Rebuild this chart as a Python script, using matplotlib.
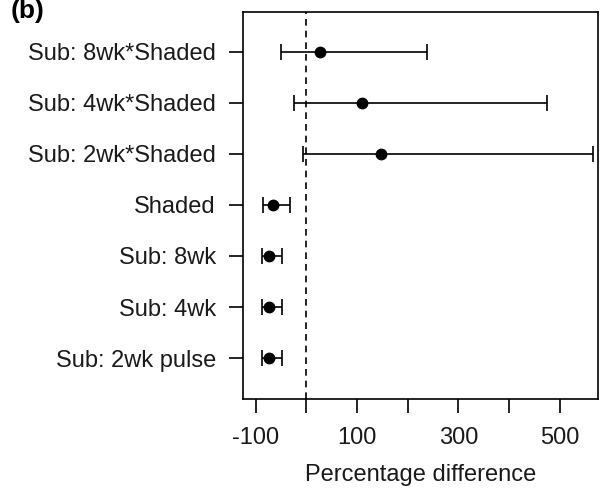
import matplotlib
matplotlib.use("Agg")
import matplotlib.pyplot as plt

plt.rcParams['font.family'] = ['Liberation Sans', 'DejaVu Sans']

labels = ["Sub: 2wk pulse", "Sub: 4wk", "Sub: 8wk", "Shaded",
          "Sub: 2wk*Shaded", "Sub: 4wk*Shaded", "Sub: 8wk*Shaded"]
estimate = [-74, -74, -74, -66, 148, 110, 27]
lower = [-87, -87, -87, -85, -6, -24, -51]
upper = [-48, -49, -48, -32, 567, 476, 239]
xticks = [-100, 0, 100, 200, 300, 400, 500]
xticklabels = ["-100", "", "100", "", "300", "", "500"]

TXT = '#1a1a1a'
W, H = 600, 488
fig = plt.figure(figsize=(W/100, H/100), dpi=100)
ax = fig.add_axes([242.7/W, 1 - 399/H, (598 - 242.7)/W, (399 - 12.3)/H])

ypos = list(range(1, len(labels) + 1))
xerr = [[e - l for e, l in zip(estimate, lower)], [u - e for e, u in zip(estimate, upper)]]
ax.errorbar(estimate, ypos, xerr=xerr, fmt='o', color='black', ms=7.5,
            elinewidth=1.2, capsize=5.8, capthick=1.2)
ax.axvline(0, color='black', linestyle=(0, (4, 3)), linewidth=1.2)

ax.set_xlim(-126, 576)
ax.set_ylim(0.2, 7.77)
ax.set_yticks(ypos)
ax.set_yticklabels(labels, fontsize=17, color=TXT)
ax.set_xticks(xticks)
ax.set_xticklabels(xticklabels, fontsize=17, color=TXT)
ax.tick_params(axis='both', length=10, width=1.2, color='black')
ax.tick_params(axis='y', pad=9.4)
ax.tick_params(axis='x', pad=10)
for s in ax.spines.values():
    s.set_linewidth(1.2)
ax.set_xlabel("Percentage difference", fontsize=17, labelpad=11, color=TXT)

fig.text(11/W, 1 - 18/H, "(b)", fontsize=19, fontweight='bold', va='baseline', ha='left')

fig.savefig("out.png", dpi=100)
